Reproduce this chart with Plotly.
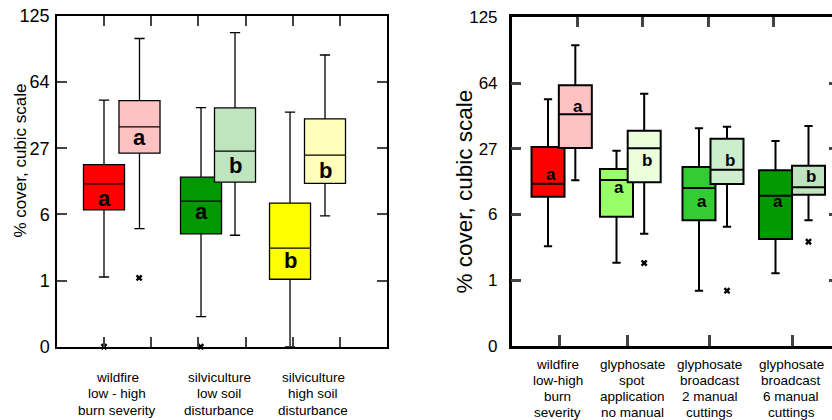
import plotly.graph_objects as go

# ---------------- data (values in cube-root units of % cover) ----------------
tick_vals = [0, 1, 2, 3, 4, 5]
tick_text = ["0", "1", "6", "27", "64", "125"]

# Left panel
left_pos = [0.997, 1.75, 3.055, 3.776, 4.943, 5.685]
left_low = [1.054, 1.785, 0.454, 1.685, 0.0, 1.977]
left_q1 = [2.068, 2.926, 1.705, 2.487, 1.02, 2.47]
left_med = [2.461, 3.324, 2.2, 2.956, 1.489, 2.896]
left_q3 = [2.753, 3.72, 2.563, 3.61, 2.17, 3.445]
left_high = [3.728, 4.66, 3.616, 4.75, 3.546, 4.41]
left_letters = ["a", "a", "a", "b", "b", "b"]
left_letter_y = [2.234, 3.16, 2.04, 2.74, 1.31, 2.67]
left_colors = ["#ff0000", "#ffc2c2", "#009900", "#bfe5bf", "#ffff00", "#ffffbb"]
left_out_x = [0.997, 1.742, 3.05, 3.797]
left_out_y = [0.0, 1.04, 0.0, -0.03]
left_groups = [
    ["wildfire", "low - high", "burn severity"],
    ["silviculture", "low soil", "disturbance"],
    ["silviculture", "high soil", "disturbance"],
]
left_group_x = [1.283, 3.443, 5.437]

# Right panel
right_pos = [0.555, 0.972, 1.601, 2.024, 2.861, 3.289, 4.03, 4.534]
right_low = [1.516, 2.52, 1.267, 1.708, 0.841, 1.815, 1.106, 1.911]
right_q1 = [2.271, 3.011, 1.967, 2.49, 1.911, 2.464, 1.627, 2.301]
right_med = [2.469, 3.524, 2.525, 3.007, 2.403, 2.682, 2.286, 2.414]
right_q3 = [3.027, 3.965, 2.692, 3.275, 2.722, 3.153, 2.672, 2.742]
right_high = [3.752, 4.573, 2.971, 3.838, 3.311, 3.335, 3.118, 3.346]
right_letters = ["a", "a", "a", "b", "a", "b", "a", "b"]
right_letter_y = [2.605, 3.65, 2.414, 2.818, 2.205, 2.818, 2.195, 2.575]
right_colors = ["#ff0000", "#ffc2c2", "#99ff66", "#ebffdd",
                "#33cc33", "#cdeecd", "#009900", "#bfe3bf"]
right_out_x = [2.024, 3.289, 4.534]
right_out_y = [1.262, 0.841, 1.586]
right_groups = [
    ["wildfire", "low-high", "burn", "severity"],
    ["glyphosate", "spot", "application", "no manual"],
    ["glyphosate", "broadcast", "2 manual", "cuttings"],
    ["glyphosate", "broadcast", "6 manual", "cuttings"],
]
right_group_x = [0.700, 1.838, 3.022, 4.271]
right_bottom_ticks = [0.723, 1.766, 3.014, 4.282]
right_top_ticks = [1, 2, 3, 4]

# ---------------- figure ----------------
W, H = 832, 420
FONT = "Liberation Sans, Arial, sans-serif"
fig = go.Figure()

def add_boxes(pos, lo, q1, med, q3, hi, colors, xa, ya, width, lw):
    for i in range(len(pos)):
        fig.add_trace(go.Box(
            x=[pos[i]], lowerfence=[lo[i]], q1=[q1[i]], median=[med[i]],
            q3=[q3[i]], upperfence=[hi[i]],
            width=width, whiskerwidth=0.25, fillcolor=colors[i],
            line=dict(color="black", width=lw), boxpoints=False,
            xaxis=xa, yaxis=ya, showlegend=False, hoverinfo="skip"))

add_boxes(left_pos, left_low, left_q1, left_med, left_q3, left_high,
          left_colors, "x", "y", 0.87, 1.3)
add_boxes(right_pos, right_low, right_q1, right_med, right_q3, right_high,
          right_colors, "x2", "y2", 0.504, 2)

fig.add_trace(go.Scatter(x=left_out_x, y=left_out_y, mode="markers",
                         marker=dict(symbol="x", size=6, color="black"),
                         xaxis="x", yaxis="y", cliponaxis=False,
                         showlegend=False, hoverinfo="skip"))
fig.add_trace(go.Scatter(x=right_out_x, y=right_out_y, mode="markers",
                         marker=dict(symbol="x", size=6, color="black"),
                         xaxis="x2", yaxis="y2", cliponaxis=False,
                         showlegend=False, hoverinfo="skip"))

ann = []
for x, y, t in zip(left_pos, left_letter_y, left_letters):
    ann.append(dict(x=x, y=y, xref="x", yref="y", text=t, showarrow=False,
                    font=dict(family=FONT, size=22, color="black", weight="bold")))
for x, y, t in zip(right_pos, right_letter_y, right_letters):
    ann.append(dict(x=x + 0.04, y=y, xref="x2", yref="y2", text=t, showarrow=False,
                    font=dict(family=FONT, size=17, color="black", weight="bold")))

left_line_px = [377, 393.5, 410]
for gx, lines in zip(left_group_x, left_groups):
    for ln, py in zip(lines, left_line_px):
        ann.append(dict(x=gx, y=1 - py / H, xref="x", yref="paper", text=ln,
                        showarrow=False, yanchor="middle",
                        font=dict(family=FONT, size=13.5, color="black")))
right_line_px = [364, 380, 396.5, 412.5]
for gx, lines in zip(right_group_x, right_groups):
    for ln, py in zip(lines, right_line_px):
        ann.append(dict(x=gx, y=1 - py / H, xref="x2", yref="paper", text=ln,
                        showarrow=False, yanchor="middle",
                        font=dict(family=FONT, size=13.5, color="black")))

ann.append(dict(x=20 / W, y=1 - 160.5 / H, xref="paper", yref="paper",
                text="% cover, cubic scale", textangle=-90, showarrow=False,
                xanchor="center", yanchor="middle",
                font=dict(family=FONT, size=17, color="black")))
ann.append(dict(x=464 / W, y=1 - 191.5 / H, xref="paper", yref="paper",
                text="% cover, cubic scale", textangle=-90, showarrow=False,
                xanchor="center", yanchor="middle",
                font=dict(family=FONT, size=22.5, color="black")))

L_dom = [57 / W, 387 / W]
R_dom = [511.7 / W, 1.0]
L_ydom = [(H - 346.7) / H, (H - 16) / H]
R_ydom = [(H - 346) / H, (H - 17.3) / H]

common = dict(showgrid=False, zeroline=False, automargin=False)

fig.update_layout(
    width=W, height=H, margin=dict(l=0, r=0, t=0, b=0, pad=0, autoexpand=False),
    paper_bgcolor="white", plot_bgcolor="white",
    boxmode="overlay", annotations=ann, showlegend=False,
    font=dict(family=FONT, color="black"),
    xaxis=dict(domain=L_dom, range=[0, 7], tickvals=[1, 2, 3, 4, 5, 6],
               showticklabels=False, ticks="inside", ticklen=10, tickwidth=1.5,
               showline=True, linewidth=1.5, linecolor="black", mirror="ticks",
               anchor="y", **common),
    yaxis=dict(domain=L_ydom, range=[0, 5], tickvals=tick_vals, ticktext=tick_text,
               ticks="inside", ticklen=10, tickwidth=1.5, showline=True,
               linewidth=1.5, linecolor="black", mirror="ticks", anchor="x",
               tickfont=dict(family=FONT, size=18, color="black"),
               ticklabelstandoff=2, **common),
    xaxis2=dict(domain=R_dom, range=[0, 4.893], tickvals=right_bottom_ticks,
                showticklabels=False, ticks="inside", ticklen=11, tickwidth=2.5,
                showline=True, linewidth=2.5, linecolor="black",
                anchor="y2", **common),
    yaxis2=dict(domain=R_ydom, range=[0, 5], tickvals=tick_vals, ticktext=tick_text,
                ticks="inside", ticklen=10, tickwidth=2.5, showline=True,
                linewidth=2.5, linecolor="black", anchor="x2",
                tickfont=dict(family=FONT, size=17, color="black"),
                ticklabelstandoff=8, **common),
    xaxis3=dict(overlaying="x2", side="top", range=[0, 4.893],
                tickvals=right_top_ticks, showticklabels=False, ticks="inside",
                ticklen=10, tickwidth=2.5, showline=True, linewidth=2.5,
                linecolor="black", anchor="y2", **common),
    yaxis3=dict(overlaying="y2", side="right", range=[0, 5], tickvals=tick_vals,
                showticklabels=False, ticks="inside", ticklen=3, tickwidth=2.5,
                showline=False, anchor="x2", **common),
)

fig.add_trace(go.Scatter(x=[None], y=[None], xaxis="x3", yaxis="y2",
                         showlegend=False, hoverinfo="skip"))
fig.add_trace(go.Scatter(x=[None], y=[None], xaxis="x2", yaxis="y3",
                         showlegend=False, hoverinfo="skip"))

fig.write_html("out.html", config={"displayModeBar": False},
               post_script="document.body.style.margin='0';document.body.style.overflow='hidden';")
